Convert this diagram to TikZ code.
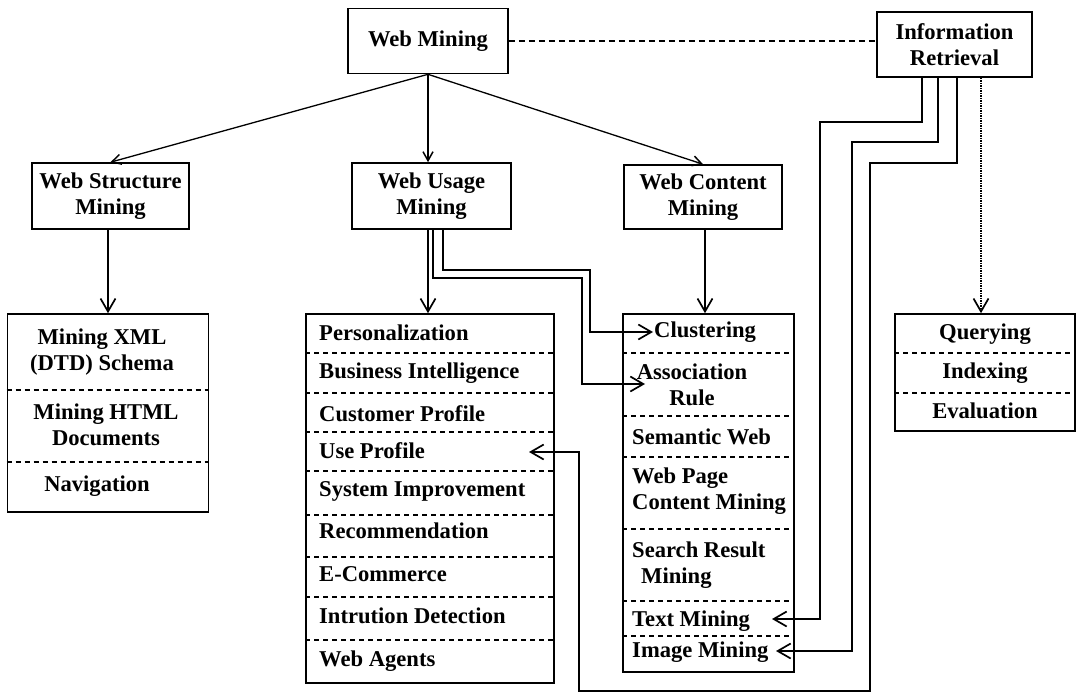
\documentclass[tikz,border=0pt]{standalone}
\usepackage{fontspec}
\setmainfont{Liberation Serif}
\usetikzlibrary{arrows.meta}
\newcommand{\boxfont}{\fontsize{22.6}{26}\selectfont\bfseries}
\tikzset{
 box/.style={draw,line width=1.6pt,inner sep=2pt,align=center,font=\boxfont},
 entry/.style={inner sep=1pt,align=center,font=\boxfont},
 item/.style={inner sep=1pt,anchor=west,align=left,font=\boxfont},
 divider/.style={line width=1.4pt,dash pattern=on 5pt off 4pt},
 arr/.style={-{Straight Barb[length=13pt,width=15pt,line width=1.7pt]},line width=1.5pt},
 smallarr/.style={-{Straight Barb[length=9pt,width=10pt,line width=1.5pt]},line width=1.3pt}
}

\begin{document}
\begin{tikzpicture}[x=1pt,y=-1pt]
\useasboundingbox (0,0) rectangle (1081,693);

% top boxes
\node[box,minimum width=160pt,minimum height=65pt] (web) at (428,41) {Web Mining};
\node[box,minimum width=155pt,minimum height=65pt] (ir) at (954.5,44.5) {Information\\Retrieval};
\node[box,minimum width=157pt,minimum height=66pt] (structure) at (110.5,196) {Web Structure\\Mining};
\node[box,minimum width=159pt,minimum height=66pt] (usage) at (431.5,196) {Web Usage\\Mining};
\node[box,minimum width=158pt,minimum height=64pt] (content) at (703,197) {Web Content\\Mining};

% list boxes
\node[box,minimum width=201pt,minimum height=198pt] (xmllist) at (108,413) {};
\node[box,minimum width=248pt,minimum height=369pt] (usagelist) at (430,498.5) {};
\node[box,minimum width=171pt,minimum height=358pt] (contentlist) at (708.5,493) {};
\node[box,minimum width=180pt,minimum height=117pt] (irlist) at (985,372.5) {};

\foreach \y in {390,462}
 \draw[divider] (xmllist.west |- 0,\y) -- (xmllist.east |- 0,\y);
\foreach \y in {353,393,432,471,515,557,597,640}
 \draw[divider] (usagelist.west |- 0,\y) -- (usagelist.east |- 0,\y);
\foreach \y in {353,416,457,529,601,636}
 \draw[divider] (contentlist.west |- 0,\y) -- (contentlist.east |- 0,\y);
\foreach \y in {353,393}
 \draw[divider] (irlist.west |- 0,\y) -- (irlist.east |- 0,\y);

% list entries
\node[entry] (xml) at (102,352) {Mining XML\\(DTD) Schema};
\node[entry] (html) at (106,425) {Mining HTML\\Documents};
\node[entry] (navi) at (97,486) {Navigation};

\foreach \t/\y [count=\i] in {Personalization/333, Business Intelligence/373,
 Customer Profile/414, Use Profile/451, System Improvement/491, Recommendation/531,
 E-Commerce/574, Intrution Detection/616, Web Agents/661}
 \node[item] (use\i) at (318,\y) {\t};

\node[item] (clust) at (653,332) {Clustering};
\node[entry] (assoc) at (692,385) {Association\\Rule};
\node[item] (semantic) at (631,437) {Semantic Web};
\node[item] (webpage) at (631,491) {Web Page\\Content Mining};
\node[item] (search) at (631,565) {Search Result\\\hspace{0.4em}Mining};
\node[item] (text) at (631,621) {Text Mining};
\node[item] (image) at (631,652) {Image Mining};

\node[entry] (query) at (985,334) {Querying};
\node[entry] (index) at (985,373) {Indexing};
\node[entry] (eval) at (985,411) {Evaluation};

% arrow ends
\coordinate (associn) at (645,384);
\coordinate (textin) at (772,619);
\coordinate (imagein) at (776,651);
\coordinate (upin) at (529,452);

% connectors
\draw[line width=1.2pt,dash pattern=on 6pt off 4pt] (web.east) -- (web.east -| ir.west);
\draw[smallarr] (web.south) -- (structure.north);
\draw[smallarr] (web.south) -- (web.south |- usage.north);
\draw[smallarr] (web.south) -- (content.north);

\draw[arr] (xmllist.north |- structure.south) -- (xmllist.north);
\draw[arr] ([xshift=-3.5pt]usage.south) -- ([xshift=-3.5pt]usage.south |- usagelist.north);
\draw[arr] ([xshift=2pt]content.south) -- ([xshift=2pt]content.south |- contentlist.north);

\draw[arr] ([xshift=11.5pt]usage.south) |- (590,270) |- (clust.west);
\draw[arr] ([xshift=1.5pt]usage.south) |- (582,278) |- (associn);

\draw[arr] ([xshift=-32.5pt]ir.south) |- (820,122) |- (textin);
\draw[arr] ([xshift=-16.5pt]ir.south) |- (852,142) |- (imagein);
\draw[arr] ([xshift=2.5pt]ir.south) |- (870,163) |- (579,691) |- (upin);
\draw[arr,densely dotted] ([xshift=26.5pt]ir.south) -- ([xshift=26.5pt]ir.south |- irlist.north);

\end{tikzpicture}
\end{document}
